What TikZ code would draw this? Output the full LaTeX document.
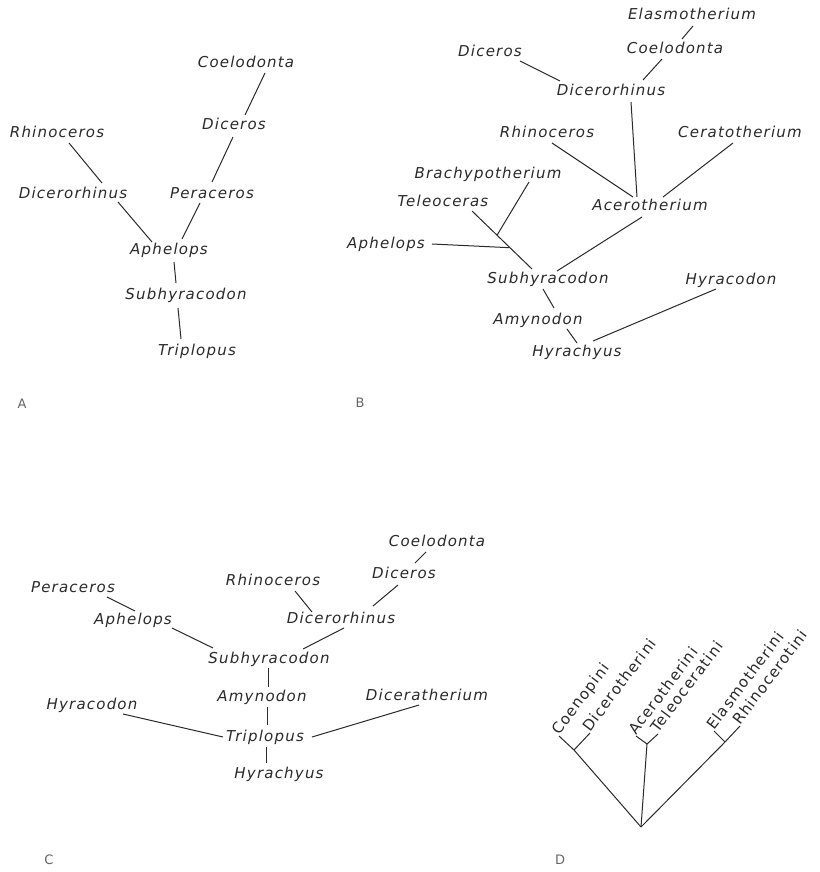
\documentclass[tikz,border=0pt]{standalone}
\usepackage{fontspec}
\setmainfont{DejaVu Sans}
\newfontfamily\labfont[LetterSpace=8]{DejaVu Sans}
\definecolor{ink}{HTML}{2A2A2A}
\begin{document}
\begin{tikzpicture}[x=1pt,y=-1pt,
  tx/.style={font=\labfont\itshape\fontsize{15}{15}\selectfont, anchor=base, inner sep=0pt, text=ink},
  dl/.style={font=\labfont\fontsize{15}{15}\selectfont, anchor=base west, rotate=53, inner sep=0pt, text=ink},
  pl/.style={font=\fontsize{13}{13}\selectfont, inner sep=0pt, text=black!60},
  ln/.style={draw=ink, line width=1pt}]
\useasboundingbox (0,0) rectangle (819,872);
\fill[white] (0,0) rectangle (819,872);

% ---------------- Panel A ----------------
\node[tx] (coA) at (246,68) {Coelodonta};
\node[tx] (diA) at (234,129) {Diceros};
\node[tx] (rhA) at (57,137) {Rhinoceros};
\node[tx] (dirA) at (73,198) {Dicerorhinus};
\node[tx] (peA) at (212,198) {Peraceros};
\node[tx] (apA) at (169,254) {Aphelops};
\node[tx] (suA) at (186,299) {Subhyracodon};
\node[tx] (trA) at (197,355) {Triplopus};
\node[pl] (labA) at (22,404) {A};

\draw[ln] ([shift={(19,5)}]coA.base) -- ([shift={(11,-14)}]diA.base);
\draw[ln] ([shift={(-1,8)}]diA.base) -- ([shift={(0,-16)}]peA.base);
\draw[ln] ([shift={(12,6)}]rhA.base) -- ([shift={(29,-15)}]dirA.base);
\draw[ln] ([shift={(45,4)}]dirA.base) -- ([shift={(-17,-12)}]apA.base);
\draw[ln] ([shift={(-12,5)}]peA.base) -- ([shift={(13,-15)}]apA.base);
\draw[ln] ([shift={(5,8)}]apA.base) -- ([shift={(-10,-16)}]suA.base);
\draw[ln] ([shift={(-8,9)}]suA.base) -- ([shift={(-16,-16)}]trA.base);

% ---------------- Panel B ----------------
\node[tx] (elB) at (692,20) {Elasmotherium};
\node[tx] (coB) at (675,54) {Coelodonta};
\node[tx] (diB) at (490,57) {Diceros};
\node[tx] (dirB) at (611,96) {Dicerorhinus};
\node[tx] (rhB) at (547,138) {Rhinoceros};
\node[tx] (ceB) at (740,137) {Ceratotherium};
\node[tx] (brB) at (488,178) {Brachypotherium};
\node[tx] (teB) at (443,206) {Teleoceras};
\node[tx] (acB) at (650,210) {Acerotherium};
\node[tx] (apB) at (386,248) {Aphelops};
\node[tx] (suB) at (548,283) {Subhyracodon};
\node[tx] (hyB) at (731,284) {Hyracodon};
\node[tx] (amB) at (538,324) {Amynodon};
\node[tx] (hrB) at (577,356) {Hyrachyus};
\node[pl] (labB) at (360,403) {B};

\draw[ln] ([shift={(1,6)}]elB.base) -- ([shift={(7,-15)}]coB.base);
\draw[ln] ([shift={(-13,5)}]coB.base) -- ([shift={(32,-16)}]dirB.base);
\draw[ln] ([shift={(30,4)}]diB.base) -- ([shift={(-51,-15)}]dirB.base);
\draw[ln] ([shift={(20,6)}]dirB.base) -- ([shift={(-13,-13)}]acB.base);
\draw[ln] ([shift={(5,5)}]rhB.base) -- ([shift={(-17,-13)}]acB.base);
\draw[ln] ([shift={(-7,6)}]ceB.base) -- ([shift={(13,-13)}]acB.base);
\draw[ln] ([shift={(-8,7)}]acB.base) -- ([shift={(9,-12)}]suB.base);
\draw[ln] ([shift={(29,5)}]teB.base) -- coordinate[pos=0.417] (jbr) coordinate[pos=0.633] (jap) ([shift={(-16,-14)}]suB.base);
\draw[ln] ([shift={(41,4)}]brB.base) -- (jbr);
\draw[ln] ([shift={(46,-4)}]apB.base) -- (jap);
\draw[ln] ([shift={(-5,6)}]suB.base) -- ([shift={(16,-16)}]amB.base);
\draw[ln] ([shift={(29,5)}]amB.base) -- ([shift={(0,-13)}]hrB.base);
\draw[ln] ([shift={(-15,5)}]hyB.base) -- ([shift={(16,-15)}]hrB.base);

% ---------------- Panel C ----------------
\node[tx] (coC) at (437,546) {Coelodonta};
\node[tx] (diC) at (404,578) {Diceros};
\node[tx] (rhC) at (273,585) {Rhinoceros};
\node[tx] (peC) at (73,592) {Peraceros};
\node[tx] (apC) at (133,624) {Aphelops};
\node[tx] (dirC) at (341,623) {Dicerorhinus};
\node[tx] (suC) at (269,663) {Subhyracodon};
\node[tx] (amC) at (262,701) {Amynodon};
\node[tx] (hyC) at (92,709) {Hyracodon};
\node[tx] (dtC) at (427,700) {Diceratherium};
\node[tx] (trC) at (265,741) {Triplopus};
\node[tx] (hrC) at (279,778) {Hyrachyus};
\node[pl] (labC) at (49,860) {C};

\draw[ln] ([shift={(-11,6)}]coC.base) -- ([shift={(11,-15)}]diC.base);
\draw[ln] ([shift={(-6,7)}]diC.base) -- ([shift={(32,-17)}]dirC.base);
\draw[ln] ([shift={(22,6)}]rhC.base) -- ([shift={(-29,-11)}]dirC.base);
\draw[ln] ([shift={(3,5)}]dirC.base) -- ([shift={(34,-14)}]suC.base);
\draw[ln] ([shift={(34,5)}]peC.base) -- ([shift={(2,-13)}]apC.base);
\draw[ln] ([shift={(39,4)}]apC.base) -- ([shift={(-56,-15)}]suC.base);
\draw[ln] ([shift={(-1,5)}]suC.base) -- ([shift={(6,-14)}]amC.base);
\draw[ln] ([shift={(5,6)}]amC.base) -- ([shift={(2,-16)}]trC.base);
\draw[ln] ([shift={(31,5)}]hyC.base) -- ([shift={(-42,-4)}]trC.base);
\draw[ln] ([shift={(-8,5)}]dtC.base) -- ([shift={(47,-4)}]trC.base);
\draw[ln] ([shift={(1,6)}]trC.base) -- ([shift={(-13,-15)}]hrC.base);

% ---------------- Panel D ----------------
\coordinate (root) at (641,827);
\coordinate (j1) at (574,750);
\coordinate (j2) at (647,744);
\coordinate (j3) at (725,742);
\node[dl] (coe) at (559,736) {Coenopini};
\node[dl] (dic) at (590,733) {Dicerotherini};
\node[dl] (ace) at (636,736) {Acerotherini};
\node[dl] (tel) at (658,734) {Teleoceratini};
\node[dl] (ela) at (714,731) {Elasmotherini};
\node[dl] (rhi) at (740,726) {Rhinocerotini};
\node[pl] (labD) at (560,860) {D};

\draw[ln] (root) -- (j1) -- (coe.base west);
\draw[ln] (j1) -- (dic.base west);
\draw[ln] (root) -- (j2) -- (ace.base west);
\draw[ln] (j2) -- (tel.base west);
\draw[ln] (root) -- (j3) -- (rhi.base west);
\draw[ln] (j3) -- (ela.base west);
\end{tikzpicture}
\end{document}
